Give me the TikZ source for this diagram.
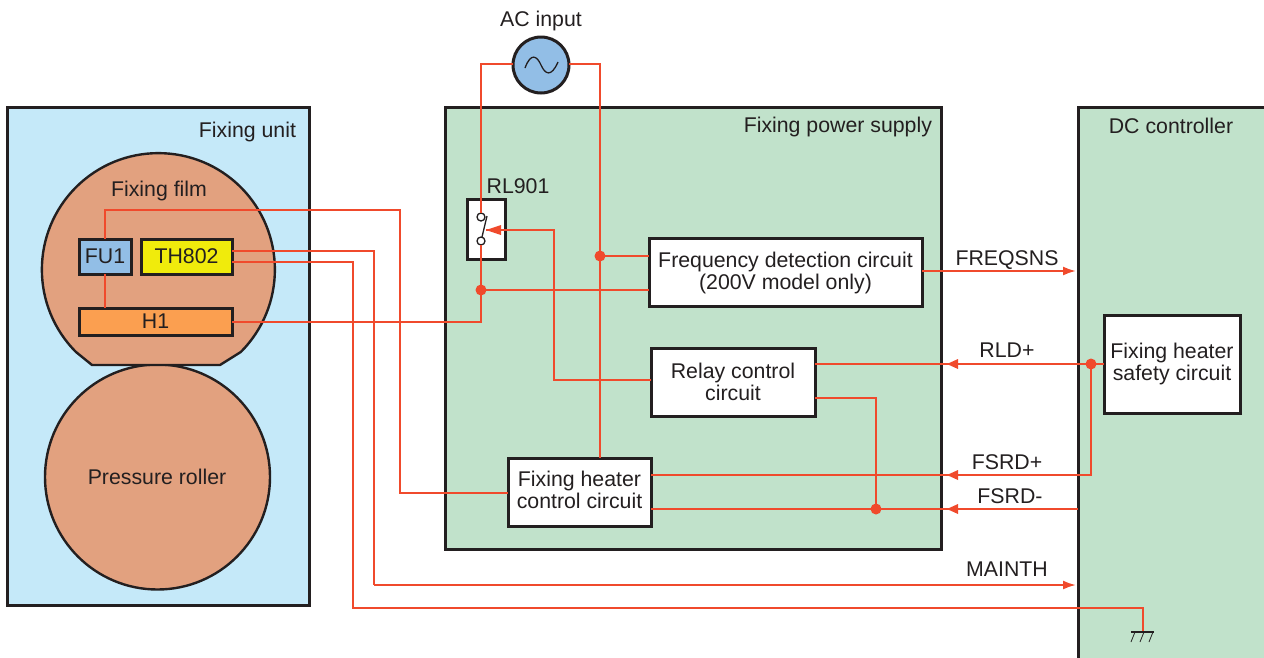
\documentclass[tikz,border=0pt]{standalone}
\usepackage{fontspec}
\setmainfont{Liberation Sans}
\usetikzlibrary{arrows.meta,positioning}
\definecolor{wire}{HTML}{F04A2C}
\definecolor{ink}{HTML}{231F20}
\definecolor{unitblue}{HTML}{C5E9F9}
\definecolor{boardgreen}{HTML}{C1E2CB}
\definecolor{filmtan}{HTML}{E2A17F}
\definecolor{fuseblue}{HTML}{92BEE6}
\definecolor{thyellow}{HTML}{F0EB0C}
\definecolor{heaterorange}{HTML}{FB9F50}
\tikzset{
  x=1pt,y=-1pt,
  every node/.style={font=\fontsize{21.3}{21.8}\selectfont,text=ink,inner sep=0pt,outer sep=0pt},
  panel/.style={draw=ink,line width=3pt},
  partbox/.style={draw=ink,line width=3pt,anchor=north west,align=center},
  circuit/.style={partbox,fill=white},
  wireline/.style={draw=wire,line width=2pt},
  wirearrow/.style={wireline,-{Latex[length=13pt,width=9pt]}},
  joint/.style={circle,fill=wire,minimum size=11pt},
  contact/.style={circle,draw=ink,line width=1.3pt,fill=white,minimum size=8pt},
  lbl/.style={anchor=center},
}
\begin{document}
\begin{tikzpicture}
\clip (0,0) rectangle (1264,657);
% panels
\draw[panel,fill=unitblue] (7,107) rectangle (309.5,605);
\draw[panel,fill=boardgreen] (445,107) rectangle (941.5,549);
\draw[panel,fill=boardgreen] (1078,107) rectangle (1280,680);
% roller and film
\draw[draw=ink,line width=2.4pt,fill=filmtan] (157.5,477) circle[radius=112.5];
\draw[draw=ink,line width=2.4pt,fill=filmtan,line join=round] (92,365) -- (76,352) arc[start angle=225,end angle=-45,radius=116.5pt] -- (220,365) -- cycle;
% labels of panels
\node[lbl,anchor=east] (l1) at (296,132) {Fixing unit};
\node[lbl,anchor=east] (l2) at (932,127) {Fixing power supply};
\node[lbl] (l3) at (1171,126) {DC controller};
\node[lbl] (l4) at (159,191) {Fixing film};
\node[lbl] (l5) at (157,477) {Pressure roller};
\node[lbl] (l6) at (541,21) {AC input};
\node[lbl] (l7) at (518,186) {RL901};
% wiring points
\coordinate (fuA) at (105,210);
\coordinate (fuB) at (400,210);
\coordinate (fuC) at (400,493);
\coordinate (mainA) at (374,251);
\coordinate (mainB) at (374,585);
\coordinate (mainEnd) at (1076,585);
\coordinate (gndA) at (353,262);
\coordinate (gndB) at (353,608);
\coordinate (gndC) at (1143,608);
\coordinate (gnd) at (1143,632);
\coordinate (acL) at (481,64);
\coordinate (acR) at (600,64);
\coordinate (relayA) at (554,380);
\coordinate (relayB) at (554,230);
\coordinate (coil) at (486,230);
\coordinate (hA) at (481,322);
\coordinate (jA) at (481,290);
\coordinate (jB) at (600,256);
\coordinate (jC) at (1091,364);
\coordinate (jD) at (876,509);
\coordinate (fsrdPlusCorner) at (1091,475);
\coordinate (bend) at (876,398);
\coordinate (freqEnd) at (1076,271);
\coordinate (dcEdge) at (1078,509);
% parts
\node[partbox,fill=white,minimum width=38pt,minimum height=60pt] (rl) at (467,199) {};
\node[circle,draw=ink,line width=3pt,fill=fuseblue,minimum size=56pt] (ac) at (541,65) {};
\draw[draw=ink,line width=1.3pt] (525,68) .. controls (531,52) and (537,56) .. (541,65) .. controls (545,74) and (551,78) .. (558,62);
\node[partbox,fill=fuseblue,minimum width=52pt,minimum height=35pt] (fu) at (79,239) {FU1};
\node[partbox,fill=thyellow,minimum width=91pt,minimum height=35pt] (th) at (141,239) {TH802};
\node[partbox,fill=heaterorange,minimum width=153pt,minimum height=27pt] (h1) at (79,308) {H1};
\node[circuit,minimum width=273pt,minimum height=68pt] (freq) at (649,238) {};
\node[lbl,align=center] (freqtxt) at (freq.center) [yshift=-1pt] {Frequency detection circuit\\(200V model only)};
\node[circuit,minimum width=164pt,minimum height=68pt] (relay) at (651,348) {Relay control\\circuit};
\node[circuit,minimum width=143pt,minimum height=68pt] (heat) at (508,458) {};
\node[lbl,align=center] (heattxt) at (579.5,490) {Fixing heater\\control circuit};
\node[partbox,fill=white,minimum width=136pt,minimum height=98pt] (safe) at (1104,315) {};
\node[lbl,align=center] (safetxt) at (1172,364) {Fixing heater\\safety circuit};
% contacts
\node[contact] (c1) at (481,217) {};
\node[contact] (c2) at (481,241) {};
% wires
\path[wireline] (fu.north) -- (fuA) -- (fuB) -- (fuC) -- (heat.west |- fuC);
\path[wireline] (fu.south) -- (fu.south |- h1.north);
\path[wireline] (th.east |- mainA) -- (mainA) -- (mainB);
\path[wirearrow] (mainB) -- (mainEnd);
\path[wireline] (th.east |- gndA) -- (gndA) -- (gndB) -- (gndC) -- (gnd);
\path[wireline] (h1.east |- hA) -- (hA) -- (c2.south);
\path[wireline] (ac.west |- acL) -- (acL) -- (c1.north);
\path[wireline] (ac.east |- acR) -- (acR) -- (acR |- heat.north);
\path[wireline] (jA) -- (jA -| freq.west);
\path[wireline] (jB) -- (jB -| freq.west);
\path[wireline] (relay.west |- relayA) -- (relayA) -- (relayB) -- (coil);
\path[wireline] (relay.east |- jC) -- (safe.west |- jC);
\path[wireline] (relay.east |- bend) -- (bend) -- (jD);
\path[wireline] (heat.east |- fsrdPlusCorner) -- (fsrdPlusCorner) -- (jC);
\path[wireline] (heat.east |- dcEdge) -- (dcEdge);
\path[wirearrow] (freq.east |- freqEnd) -- (freqEnd);
% arrowheads into the power supply
\coordinate (tipA) at (947,364);
\coordinate (tipB) at (947,475);
\coordinate (tipC) at (947,509);
\foreach \t in {tipA,tipB,tipC}{\fill[wire] (\t) -- ++(11,-5) -- ++(0,10) -- cycle;}
\fill[wire] (coil) -- ++(15,-5) -- ++(0,10) -- cycle;
% switch blade
\draw[draw=ink,line width=1.3pt] (c2.north) ++(1,0) -- (487,216);
% joints
\node[joint] (j1) at (jA) {};
\node[joint] (j2) at (jB) {};
\node[joint] (j3) at (jC) {};
\node[joint] (j4) at (jD) {};
% ground
\draw[draw=ink,line width=2pt] (1131,632) -- (1154,632);
\draw[draw=ink,line width=0.8pt] (1135,632) -- (1131,642) (1144,632) -- (1140,642) (1153,632) -- (1149,642);
% signal labels
\node[lbl] (s1) at (1007,260) {FREQSNS};
\node[lbl] (s2) at (1007,350) {RLD+};
\node[lbl] (s3) at (1007,462) {FSRD+};
\node[lbl] (s4) at (1010,496) {FSRD-};
\node[lbl] (s5) at (1007,569) {MAINTH};
\end{tikzpicture}
\end{document}
